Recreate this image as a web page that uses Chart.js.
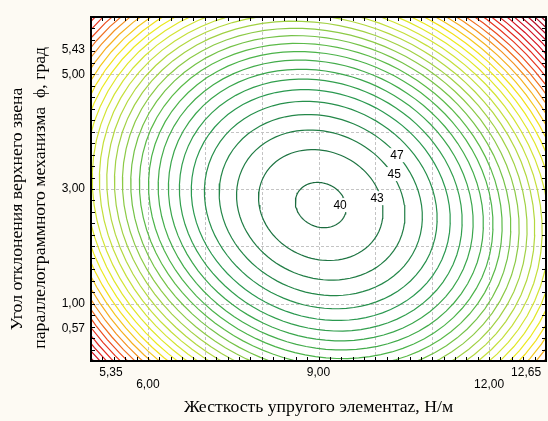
<!DOCTYPE html>
<html>
<head>
<meta charset="utf-8">
<script src="https://cdn.jsdelivr.net/npm/chart.js@4"></script>
<style>
  html, body { margin: 0; padding: 0; background: #fdfaf3; }
  #wrap { width: 548px; height: 421px; }
</style>
</head>
<body>
<div id="wrap"><canvas id="chart" width="548" height="421"></canvas></div>
<script>
// axis ticks as printed on the chart
const xTicks = [5.35, 6.0, 9.0, 12.0, 12.65];
const yTicks = [0.57, 1.0, 3.0, 5.0, 5.43];
const xRange = [5, 13];
const yRange = [0, 6];

// contour levels (every 2 units from the optimum outwards)
const levels = [41, 43, 45, 47, 49, 51, 53, 55, 57, 59, 61, 63, 65, 67, 69, 71, 73,
  75, 77, 79, 81, 83, 85, 87, 89, 91, 93, 95, 97, 99, 101, 103, 105, 107, 109];

// response surface: optimum point, value there, curvature (xx, yy, xy)
const optimum = [9.04, 2.72];
const minValue = 40.6;
const curvature = [2.04, 2.61, 0.6];

// contour labels
const labelTexts = ["40", "43", "45", "47"];
const labelX = [9.38, 10.03, 10.33, 10.38];
const labelY = [2.72, 2.84, 3.26, 3.59];

// colour ramp of the levels
const rampLevels = [41, 51, 60, 66, 72, 78, 84, 90, 98, 109];
const rampColors = ["#1b6b3e", "#2a9950", "#4fb648", "#98ce46", "#cde238",
  "#f2ec1a", "#f6a422", "#ea3a1e", "#d41022", "#9c0f2c"];

const hexToRgb = (h) => [1, 3, 5].map((i) => parseInt(h.substr(i, 2), 16));

function levelColor(v) {
  let i = 0;
  while (i < rampLevels.length - 2 && v > rampLevels[i + 1]) i++;
  const t = Math.max(0, Math.min(1, (v - rampLevels[i]) / (rampLevels[i + 1] - rampLevels[i])));
  const a = hexToRgb(rampColors[i]);
  const b = hexToRgb(rampColors[i + 1]);
  const c = a.map((x, k) => Math.round(x + (b[k] - x) * t));
  return "rgb(" + c.join(",") + ")";
}

// closed contour of the surface for one level
function contour(level) {
  const pts = [];
  const [a, b, c] = curvature;
  for (let deg = 0; deg <= 360; deg += 4) {
    const t = (deg * Math.PI) / 180;
    const cs = Math.cos(t), sn = Math.sin(t);
    const q = a * cs * cs + b * sn * sn + c * cs * sn;
    const r = Math.sqrt((level - minValue) / q);
    pts.push({ x: optimum[0] + r * cs, y: optimum[1] + r * sn });
  }
  return pts;
}

const datasets = levels.map((lv) => ({
  label: String(lv),
  data: contour(lv),
  showLine: true,
  borderColor: levelColor(lv),
  borderWidth: 1.2,
  pointRadius: 0,
  fill: false,
  tension: 0,
}));

const fmt = (v) => v.toFixed(2).replace(".", ",");

// frame, dashed grid, inward ticks, contour labels
const decor = {
  id: "decor",
  beforeDatasetsDraw(chart) {
    const { ctx, chartArea: ca, scales } = chart;
    ctx.save();
    ctx.fillStyle = "#ffffff";
    ctx.fillRect(ca.left, ca.top, ca.right - ca.left, ca.bottom - ca.top);
    ctx.strokeStyle = "#c4c4c4";
    ctx.lineWidth = 1;
    ctx.setLineDash([3, 2]);
    for (let v = 6; v <= 12; v++) {
      const px = Math.round(scales.x.getPixelForValue(v)) + 0.5;
      ctx.beginPath(); ctx.moveTo(px, ca.top); ctx.lineTo(px, ca.bottom); ctx.stroke();
    }
    for (let v = 1; v <= 5; v++) {
      const py = Math.round(scales.y.getPixelForValue(v)) + 0.5;
      ctx.beginPath(); ctx.moveTo(ca.left, py); ctx.lineTo(ca.right, py); ctx.stroke();
    }
    ctx.restore();
  },
  afterDatasetsDraw(chart) {
    const { ctx, chartArea: ca, scales } = chart;
    ctx.save();
    ctx.font = "12px 'Liberation Sans', Arial, sans-serif";
    ctx.textAlign = "center";
    ctx.textBaseline = "middle";
    labelTexts.forEach((t, i) => {
      const px = scales.x.getPixelForValue(labelX[i]);
      const py = scales.y.getPixelForValue(labelY[i]);
      const w = ctx.measureText(t).width;
      ctx.fillStyle = "#ffffff";
      ctx.fillRect(px - w / 2 - 2, py - 7, w + 4, 14);
      ctx.fillStyle = "#000000";
      ctx.fillText(t, px, py + 0.5);
    });
    // inward minor ticks
    ctx.strokeStyle = "#000";
    ctx.lineWidth = 1;
    for (let k = 0; k <= 40; k++) {
      const px = Math.round(scales.x.getPixelForValue(xRange[0] + k * 0.2)) + 0.5;
      ctx.beginPath(); ctx.moveTo(px, ca.bottom); ctx.lineTo(px, ca.bottom - 4); ctx.stroke();
      ctx.beginPath(); ctx.moveTo(px, ca.top); ctx.lineTo(px, ca.top + 4); ctx.stroke();
    }
    for (let k = 0; k <= 30; k++) {
      const py = Math.round(scales.y.getPixelForValue(yRange[0] + k * 0.2)) + 0.5;
      ctx.beginPath(); ctx.moveTo(ca.left, py); ctx.lineTo(ca.left + 4, py); ctx.stroke();
      ctx.beginPath(); ctx.moveTo(ca.right, py); ctx.lineTo(ca.right - 4, py); ctx.stroke();
    }
    ctx.lineWidth = 2;
    ctx.strokeRect(ca.left, ca.top, ca.right - ca.left, ca.bottom - ca.top);
    ctx.restore();
  },
};

const tickFont = { family: "'Liberation Sans', Arial, sans-serif", size: 12, lineHeight: 1 };
const titleFont = { family: "'Liberation Serif', 'Times New Roman', serif", size: 17.7 };

new Chart(document.getElementById("chart"), {
  type: "scatter",
  data: { datasets },
  options: {
    responsive: false,
    animation: false,
    devicePixelRatio: 1,
    layout: { padding: { left: 0, top: 17, right: 2, bottom: 0 } },
    plugins: { legend: { display: false }, tooltip: { enabled: false } },
    scales: {
      x: {
        type: "linear",
        min: xRange[0],
        max: xRange[1],
        afterBuildTicks: (s) => { s.ticks = xTicks.map((v) => ({ value: v })); },
        afterFit: (s) => { s.height = 60; },
        grid: { display: false, drawTicks: false },
        border: { display: false },
        ticks: {
          autoSkip: false,
          maxRotation: 0,
          padding: 6,
          color: "#000",
          font: tickFont,
          callback: (v, i) => (i % 2 ? ["", fmt(v)] : fmt(v)),
        },
        title: {
          display: true,
          text: "Жесткость упругого элементаz, Н/м",
          color: "#000",
          font: { ...titleFont, lineHeight: 1.15 },
          padding: { top: 0, bottom: 3 },
        },
      },
      y: {
        type: "linear",
        min: yRange[0],
        max: yRange[1],
        afterBuildTicks: (s) => { s.ticks = yTicks.map((v) => ({ value: v })); },
        afterFit: (s) => { s.width = 91; },
        grid: { display: false, drawTicks: false },
        border: { display: false },
        ticks: { autoSkip: false, padding: 6, color: "#000", font: tickFont, callback: (v) => fmt(v) },
        title: {
          display: true,
          // trailing spaces keep the printed off-centre placement of the two lines
          text: ["Угол отклонения верхнего звена         ",
                 "параллелограммного механизма  ϕ, град    "],
          color: "#000",
          font: { ...titleFont, lineHeight: 1.3 },
          padding: { top: 6, bottom: 0 },
        },
      },
    },
  },
  plugins: [decor],
});
</script>
</body>
</html>
